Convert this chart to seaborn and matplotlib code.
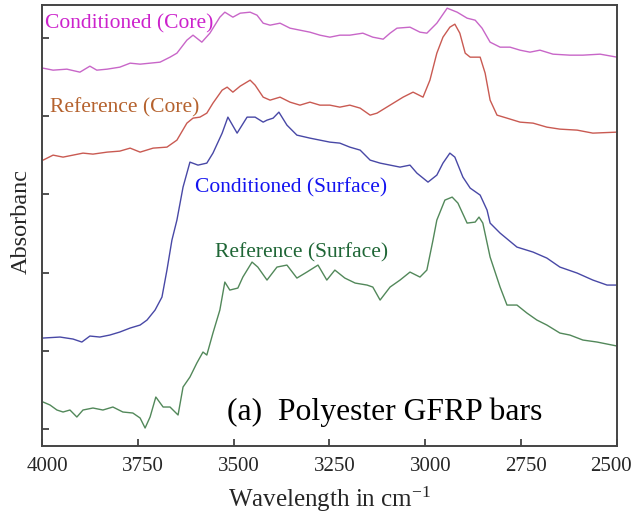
import pandas as pd
import matplotlib
matplotlib.use('Agg')
import matplotlib.pyplot as plt
import matplotlib.transforms as mtransforms
import seaborn as sns

# Wavenumber (cm-1) and absorbance (arbitrary, offset)
cond_core_x = [3997, 3971, 3935, 3901, 3875, 3857, 3830, 3797, 3770, 3744, 3718, 3692, 3666, 3648,
               3622, 3606, 3583, 3562, 3536, 3523, 3502, 3483, 3457, 3439, 3423, 3405, 3379, 3353,
               3327, 3301, 3275, 3249, 3223, 3197, 3163, 3137, 3110, 3092, 3074, 3040, 3014, 2996,
               2970, 2943, 2917, 2891, 2870, 2852, 2831, 2805, 2779, 2753, 2727, 2701, 2667, 2623,
               2589, 2544, 2500]
cond_core_y = [3.78, 3.76, 3.77, 3.74, 3.80, 3.76, 3.77, 3.79, 3.83, 3.82, 3.83, 3.84, 3.89, 3.93,
               4.06, 4.11, 4.04, 4.13, 4.29, 4.34, 4.29, 4.33, 4.34, 4.31, 4.23, 4.21, 4.23, 4.18,
               4.16, 4.14, 4.11, 4.09, 4.11, 4.11, 4.13, 4.09, 4.07, 4.13, 4.18, 4.19, 4.14, 4.13,
               4.23, 4.38, 4.34, 4.28, 4.26, 4.18, 4.04, 3.99, 3.99, 3.96, 3.94, 3.96, 3.92, 3.91,
               3.91, 3.92, 3.89]

ref_core_x = [3997, 3971, 3945, 3919, 3893, 3867, 3830, 3797, 3770, 3744, 3710, 3674, 3648, 3622,
              3606, 3588, 3570, 3554, 3530, 3517, 3502, 3483, 3457, 3444, 3423, 3405, 3379, 3353,
              3327, 3301, 3275, 3249, 3223, 3197, 3170, 3144, 3126, 3092, 3058, 3032, 3006, 2988,
              2970, 2954, 2936, 2923, 2910, 2896, 2883, 2857, 2844, 2831, 2813, 2787, 2753, 2719,
              2683, 2649, 2604, 2563, 2500]
ref_core_y = [2.86, 2.91, 2.89, 2.91, 2.93, 2.92, 2.94, 2.95, 2.98, 2.94, 2.98, 2.99, 3.06, 3.23,
              3.28, 3.29, 3.33, 3.43, 3.56, 3.59, 3.54, 3.60, 3.66, 3.61, 3.49, 3.46, 3.49, 3.44,
              3.41, 3.44, 3.41, 3.41, 3.39, 3.41, 3.38, 3.31, 3.33, 3.41, 3.49, 3.54, 3.49, 3.66,
              3.93, 4.09, 4.19, 4.22, 4.13, 3.93, 3.89, 3.89, 3.73, 3.46, 3.31, 3.28, 3.24, 3.23,
              3.19, 3.17, 3.16, 3.13, 3.14]

cond_surf_x = [3997, 3953, 3919, 3896, 3875, 3849, 3823, 3797, 3770, 3744, 3726, 3705, 3687, 3674,
               3661, 3648, 3632, 3614, 3593, 3570, 3554, 3530, 3515, 3491, 3465, 3444, 3423, 3413,
               3397, 3382, 3361, 3335, 3301, 3275, 3249, 3223, 3197, 3170, 3144, 3118, 3092, 3066,
               3040, 3022, 2993, 2970, 2954, 2936, 2923, 2902, 2883, 2857, 2839, 2831, 2805, 2761,
               2719, 2683, 2649, 2604, 2563, 2526, 2500]
cond_surf_y = [1.08, 1.09, 1.07, 1.04, 1.10, 1.09, 1.11, 1.14, 1.18, 1.21, 1.26, 1.36, 1.49, 1.76,
               2.06, 2.26, 2.59, 2.84, 2.81, 2.83, 2.93, 3.13, 3.29, 3.13, 3.29, 3.29, 3.24, 3.26,
               3.28, 3.34, 3.21, 3.11, 3.08, 3.06, 3.04, 3.03, 2.99, 2.96, 2.86, 2.83, 2.81, 2.79,
               2.81, 2.73, 2.64, 2.71, 2.83, 2.93, 2.89, 2.69, 2.58, 2.51, 2.36, 2.23, 2.13, 1.99,
               1.94, 1.88, 1.79, 1.73, 1.66, 1.61, 1.61]

ref_surf_x = [3997, 3979, 3961, 3945, 3927, 3909, 3893, 3867, 3841, 3815, 3789, 3763, 3744, 3731,
              3718, 3703, 3684, 3666, 3645, 3632, 3614, 3596, 3580, 3570, 3554, 3536, 3523, 3510,
              3489, 3476, 3452, 3437, 3413, 3387, 3361, 3335, 3309, 3280, 3257, 3236, 3210, 3183,
              3152, 3137, 3118, 3092, 3066, 3040, 3014, 2996, 2980, 2970, 2949, 2930, 2915, 2891,
              2870, 2860, 2850, 2831, 2805, 2787, 2761, 2735, 2709, 2683, 2649, 2623, 2589, 2552,
              2500]
ref_surf_y = [0.44, 0.41, 0.36, 0.34, 0.36, 0.29, 0.36, 0.38, 0.36, 0.39, 0.34, 0.33, 0.28, 0.18,
              0.29, 0.49, 0.39, 0.39, 0.31, 0.59, 0.69, 0.83, 0.94, 0.91, 1.13, 1.36, 1.64, 1.56,
              1.58, 1.69, 1.84, 1.79, 1.66, 1.79, 1.81, 1.68, 1.74, 1.81, 1.66, 1.76, 1.68, 1.63,
              1.61, 1.59, 1.46, 1.59, 1.66, 1.74, 1.69, 1.76, 2.06, 2.26, 2.46, 2.49, 2.43, 2.23,
              2.24, 2.29, 2.23, 1.89, 1.59, 1.41, 1.41, 1.33, 1.26, 1.21, 1.13, 1.11, 1.06, 1.04,
              1.00]

series_names = ['Conditioned (Core)', 'Reference (Core)', 'Conditioned (Surface)', 'Reference (Surface)']
line_colors = ['#c866c8', '#c95a52', '#4848a6', '#52885a']
label_colors = ['#cc22cc', '#b5622e', '#1414f0', '#1f6636']
x_ticks = [4000, 3750, 3500, 3250, 3000, 2750, 2500]

frames = []
for name, xs, ys in zip(series_names,
                        [cond_core_x, ref_core_x, cond_surf_x, ref_surf_x],
                        [cond_core_y, ref_core_y, cond_surf_y, ref_surf_y]):
    frames.append(pd.DataFrame({'wavenumber': xs, 'absorbance': ys, 'sample': name}))
df = pd.concat(frames, ignore_index=True)

sns.set_style('ticks')
plt.rcParams['font.family'] = ['Liberation Serif', 'DejaVu Serif']
plt.rcParams['mathtext.default'] = 'regular'

fig = plt.figure(figsize=(6.34, 5.18), dpi=100)
ax = fig.add_axes([0.0662, 0.139, 0.907, 0.851])

sns.lineplot(data=df, x='wavenumber', y='absorbance', hue='sample',
             palette=dict(zip(series_names, line_colors)), estimator=None,
             linewidth=1.0, legend=False, ax=ax)

ax.set_xlim(4000, 2500)
ax.set_ylim(0, 4.41)
ax.set_xticks(x_ticks)
ax.set_xticklabels([str(t) for t in x_ticks], fontsize=15)
ax.set_yticks([0.17, 0.95, 1.73, 2.52, 3.30, 4.08])
ax.set_yticklabels([])
ax.tick_params(direction='in', length=5, width=1.2, color='#333333', pad=8)
for sp in ax.spines.values():
    sp.set_color('#444444')
    sp.set_linewidth(1.4)

# tick labels sit a little right of their ticks, the last one pulled inside
labels = ax.get_xticklabels()
for i, lab in enumerate(labels):
    dx = -6 if i == len(labels) - 1 else 5
    lab.set_transform(lab.get_transform() + mtransforms.ScaledTranslation(dx / 100, 0, fig.dpi_scale_trans))

ax.set_xlabel(r'Wavelength in cm$^{-1}$', fontsize=18, labelpad=6)
ax.set_ylabel('Absorbanc', fontsize=17.5)
ax.yaxis.set_label_coords(-0.018, 0.51)

# series labels
ax.text(3992, 4.18, series_names[0], color=label_colors[0], fontsize=15.5, va='baseline')
ax.text(3979, 3.34, series_names[1], color=label_colors[1], fontsize=15.5, va='baseline')
ax.text(3601, 2.54, series_names[2], color=label_colors[2], fontsize=15.5, va='baseline')
ax.text(3549, 1.89, series_names[3], color=label_colors[3], fontsize=15.5, va='baseline')
ax.text(3517, 0.26, '(a)  Polyester GFRP bars', color='black', fontsize=22.8, va='baseline')

plt.savefig('out.png', dpi=100)
